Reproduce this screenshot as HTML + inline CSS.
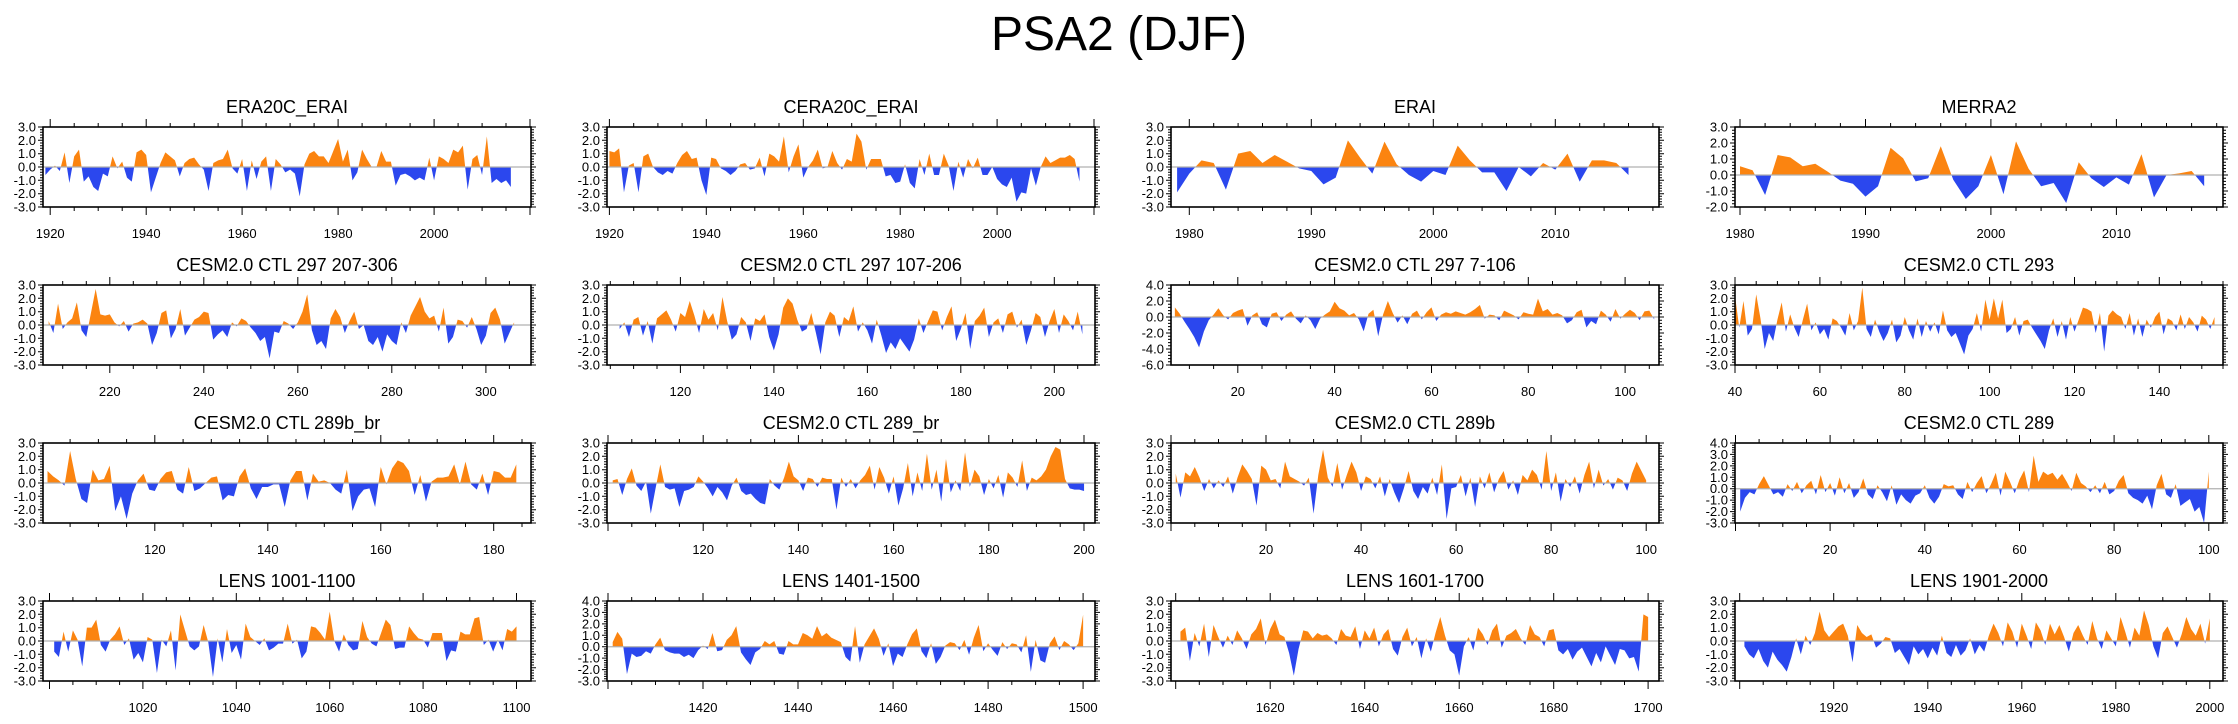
<!DOCTYPE html>
<html><head><meta charset="utf-8"><style>
html,body{margin:0;padding:0;background:#fff}
svg text{font-family:"Liberation Sans",sans-serif;fill:#000}
</style></head><body>
<svg id="fig" width="2238" height="719" xmlns="http://www.w3.org/2000/svg">
<text x="1119" y="50" text-anchor="middle" font-size="48">PSA2 (DJF)</text>
</svg>
<script>
const titles=["ERA20C_ERAI","CERA20C_ERAI","ERAI","MERRA2","CESM2.0 CTL 297 207-306","CESM2.0 CTL 297 107-206","CESM2.0 CTL 297 7-106","CESM2.0 CTL 293","CESM2.0 CTL 289b_br","CESM2.0 CTL 289_br","CESM2.0 CTL 289b","CESM2.0 CTL 289","LENS 1001-1100","LENS 1401-1500","LENS 1601-1700","LENS 1901-2000"];
const startYears=[1919,1920,1979,1980,207,107,7,40,101,101,1,1,1001,1401,1601,1901];
const xMins=[1918.5,1919.5,1978.5,1979.6,205.8,104.3,6.2,40,100.2,99.8,0,-0.1,998.6,1399.8,1599,1899];
const xMaxs=[2020.2,2020.2,2018.5,2018.5,309.6,208.7,107,155,186.6,202.3,102.7,103,1103.1,1502.5,1702.3,2002.8];
const xTickLabels=[[1920,1940,1960,1980,2000],[1920,1940,1960,1980,2000],[1980,1990,2000,2010],[1980,1990,2000,2010],[220,240,260,280,300],[120,140,160,180,200],[20,40,60,80,100],[40,60,80,100,120,140],[120,140,160,180],[120,140,160,180,200],[20,40,60,80,100],[20,40,60,80,100],[1020,1040,1060,1080,1100],[1420,1440,1460,1480,1500],[1620,1640,1660,1680,1700],[1920,1940,1960,1980,2000]];
const yMins=[-3,-3,-3,-2,-3,-3,-6,-3,-3,-3,-3,-3,-3,-3,-3,-3];
const yMaxs=[3,3,3,3,3,3,4,3,3,3,3,4,3,4,3,3];
const s1=[-0.6,-0.2,0.1,-0.3,1.1,-1.2,0.8,1.3,-1.1,-0.7,-1.5,-1.8,-0.5,-0.7,0.8,-0.1,0.4,-0.8,-1.1,1.1,1.3,0.9,-1.9,-0.8,0.3,1.1,0.8,0.5,-0.7,0.3,0.6,0.7,0.2,-0.2,-1.8,0.3,0.5,0.6,1.3,-0.1,-0.5,0.6,-1.8,0.5,-0.9,0.4,0.8,-1.8,0.6,0.2,-0.4,-0.2,-0.5,-2.2,0.2,1.0,1.2,0.8,0.8,0.3,1.2,2.1,0.4,1.3,-1.0,-0.4,1.3,0.6,0.0,0.0,1.2,0.4,0.4,-1.4,-0.6,-0.5,-0.7,-1.0,-0.8,-1.0,0.7,-1.0,0.8,0.6,0.3,1.3,1.1,1.6,-1.7,0.6,0.9,-0.6,2.3,-1.2,-0.9,-1.2,-1.0,-1.5];
const s2=[1.2,1.1,1.4,-1.9,0.1,0.3,-1.9,0.8,1.0,0.0,-0.4,-0.6,-0.3,-0.5,0.3,0.9,1.2,0.6,0.7,-1.0,-2.1,0.7,0.6,-0.1,-0.3,-0.6,-0.3,0.2,0.3,-0.2,-0.1,0.7,-0.7,1.0,0.8,0.4,2.3,-0.4,0.8,1.7,-0.8,0.0,0.5,1.3,-0.1,0.0,1.2,0.3,-0.2,0.6,0.4,2.5,1.9,-0.2,0.6,0.6,0.6,-0.7,-0.6,-1.2,-1.1,0.2,-1.2,-1.6,0.6,-0.6,1.0,-0.6,-0.6,1.0,0.1,-1.8,0.4,-0.8,0.6,-0.1,0.7,-0.6,-0.6,0.0,-0.9,-1.3,-1.5,-0.8,-2.6,-1.9,-2.0,-0.1,-1.4,0.0,0.8,0.3,0.5,0.7,0.7,0.9,0.6,-1.1];
const s3=[-1.9,-0.5,0.5,0.3,-1.7,1.0,1.2,0.3,0.9,0.4,-0.1,-0.3,-1.3,-0.8,2.0,0.7,-0.5,1.9,0.2,-0.6,-1.1,-0.3,-0.6,1.6,0.5,-0.4,-0.4,-1.8,0.0,-0.7,0.3,-0.2,1.0,-1.1,0.5,0.5,0.3,-0.6];
const s4=[0.55,0.3,-1.25,1.25,1.1,0.55,0.7,0.2,-0.35,-0.55,-1.35,-0.7,1.7,1.05,-0.4,-0.2,1.8,-0.3,-1.5,-0.7,1.25,-1.2,2.1,0.4,-0.7,-0.5,-1.75,0.8,-0.2,-0.75,-0.15,-0.6,1.3,-1.4,0.0,0.1,0.25,-0.7];
const s5=[0.3,-0.6,1.6,-0.3,0.2,0.5,1.7,-0.4,-0.9,0.9,2.7,0.8,0.7,0.8,0.2,-0.1,0.3,-0.5,0.1,0.2,0.4,0.1,-1.5,-0.6,0.9,1.1,-1.0,-0.3,1.2,-0.8,-0.2,0.4,0.6,1.0,0.9,-1.1,-0.7,-0.4,-0.9,0.2,-0.1,0.5,0.3,-0.2,-0.6,-1.2,-0.9,-2.5,-0.5,-0.6,0.3,0.1,-0.3,0.2,1.0,2.3,-0.4,-1.5,-1.2,-1.8,0.5,1.2,0.6,-0.6,0.3,1.0,-0.3,0.0,-1.2,-1.5,-0.9,-2.0,-0.7,-1.2,-1.5,0.2,-0.6,0.7,1.4,2.1,1.0,0.5,0.7,-0.5,1.3,-1.4,-0.9,0.4,0.3,-0.2,0.6,-0.3,-1.5,-0.8,0.9,1.3,0.4,-1.4,-0.6,0.2];
const s6=[-0.3,0.2,-0.9,0.4,0.6,-0.8,0.3,-1.4,0.5,0.8,1.1,0.4,-0.5,0.9,0.6,1.8,0.7,-0.6,1.2,0.4,0.9,-0.4,2.1,0.3,-1.1,-0.7,0.6,0.2,-1.2,0.5,0.3,0.8,-0.9,-1.9,-0.7,1.3,2.0,1.6,0.4,-0.5,-0.3,0.9,-0.6,-2.2,0.2,1.0,0.7,-0.9,0.6,0.3,1.4,-0.5,0.2,-0.4,-1.4,0.4,-0.8,-2.1,-1.3,-1.8,-1.0,-1.5,-2.0,-1.1,0.5,-0.6,0.3,1.1,1.0,-0.4,0.6,1.4,-1.2,-0.3,0.9,-1.8,0.3,0.7,1.3,-0.9,0.2,0.5,-0.6,0.8,1.0,-0.2,0.4,-1.5,-0.4,0.9,0.6,-0.9,0.3,1.2,-0.6,0.8,0.3,-0.4,1.0,-0.7];
const s7=[1.2,0.4,-0.6,-1.5,-2.5,-3.8,-1.8,-0.4,0.3,1.1,0.2,-0.3,0.5,0.8,1.0,-1.1,0.2,0.6,-0.9,-1.3,0.4,0.6,-0.5,0.3,0.7,-0.2,-0.8,0.2,-0.4,-1.5,-0.2,0.3,0.7,1.9,1.1,0.8,0.2,0.5,-0.3,-1.8,0.4,0.9,-2.4,0.3,2.0,0.5,-0.7,0.2,-0.9,0.4,0.8,-0.3,0.6,1.2,-0.5,0.3,0.6,0.4,0.7,0.5,0.3,0.6,1.0,1.5,-0.2,0.3,0.2,-0.4,0.8,0.5,0.2,-0.3,0.6,0.4,0.3,2.3,0.7,1.0,0.3,0.5,0.2,-0.8,-0.4,0.6,0.9,-1.3,-0.5,-0.9,0.8,0.3,-0.6,1.0,-0.2,0.4,0.9,0.5,-0.4,0.7,0.8,-0.3];
const s8=[2.2,-0.2,1.8,-0.8,-0.3,2.3,0.5,-1.8,-0.6,-1.2,0.4,1.7,-0.5,0.8,-0.2,-0.9,0.4,1.6,-0.4,0.2,-0.7,-0.3,-1.1,0.5,0.3,-0.2,-0.8,0.9,-0.4,0.3,2.8,-0.3,-0.9,0.4,-0.5,-1.2,-0.6,0.4,-1.3,-0.8,0.6,-0.4,-1.1,0.5,-0.9,0.3,-0.5,0.2,-0.7,1.1,-0.4,-0.9,-0.6,-1.4,-2.2,-0.8,-0.3,0.9,-0.5,1.9,0.4,2.0,0.5,1.9,-0.6,-0.3,0.6,-0.8,0.3,0.4,-0.2,-0.7,-1.2,-1.8,-0.4,0.5,-0.9,0.3,-1.1,0.6,-0.5,0.4,1.3,1.2,1.0,-0.6,0.9,-2.0,0.7,1.1,0.8,0.6,-0.3,0.9,-0.8,0.5,-0.9,0.4,-0.2,0.6,1.0,-0.7,0.5,0.3,-0.4,0.8,-0.3,0.6,0.2,-0.5,0.7,0.4,-0.3,0.6];
const s9=[0.9,0.5,0.2,-0.2,2.4,0.3,-1.2,-1.5,1.0,0.2,0.3,1.3,-2.1,-1.0,-2.7,-0.8,0.2,0.7,-0.5,-0.6,0.3,0.8,0.9,-0.5,-0.8,1.2,-0.6,-0.4,0.0,0.4,0.5,-1.3,-0.9,-1.0,0.5,1.1,-0.4,-1.2,-0.3,-0.3,-0.1,-0.1,-1.8,0.2,0.9,0.9,-1.3,0.7,0.1,0.2,0.0,-0.5,-0.8,1.0,-2.1,-1.0,-0.5,-0.4,-1.8,1.2,-0.1,1.1,1.7,1.5,0.9,-0.9,0.6,-1.4,0.1,0.4,0.4,0.5,1.4,-0.1,1.6,-0.1,-0.5,0.7,-0.9,0.9,0.8,0.4,0.4,1.4];
const s10=[0.2,0.3,-0.9,0.3,1.1,-0.2,-0.6,0.1,-2.3,-0.4,1.4,-0.3,-0.5,-0.4,-1.8,-0.6,-0.5,-0.3,0.5,0.1,-0.4,-1.0,-0.3,-0.7,-1.3,-0.2,0.4,-0.6,-0.9,-0.8,-1.2,-1.5,-1.6,0.3,-0.2,-0.5,0.4,1.6,0.5,0.2,-0.6,0.4,0.3,-0.3,0.4,0.3,0.3,-2.0,0.4,-0.3,0.3,-0.4,0.2,0.6,1.3,-0.5,1.2,0.4,-0.8,0.5,-1.7,-0.4,1.5,-1.0,0.8,-0.6,2.2,-0.5,1.0,-1.4,1.8,-0.7,0.2,-0.6,2.3,-0.3,1.0,0.5,-0.9,0.3,-0.4,0.6,-1.1,0.8,0.4,-0.3,1.7,-0.6,0.4,0.2,0.5,1.0,2.0,2.7,2.5,0.3,-0.4,-0.5,-0.5,-0.6];
const s11=[0.7,-1.1,0.8,0.5,1.2,0.4,-0.6,0.3,-0.4,0.2,-0.3,0.5,-0.8,0.4,1.4,0.9,0.3,-1.7,1.3,1.0,0.2,0.3,-0.4,1.6,0.5,0.3,0.1,-0.2,0.4,-2.3,0.6,2.5,0.4,-0.3,1.5,-0.5,0.6,1.6,0.8,-0.6,0.5,0.3,-0.4,0.5,-1.0,0.3,-0.7,-1.5,-0.4,0.9,-0.6,-1.2,-0.3,-0.8,0.4,-0.9,1.4,-2.7,-0.4,-0.3,0.6,-1.0,0.4,-1.8,0.5,-0.4,0.8,-0.7,0.3,0.9,-0.5,0.2,-0.9,0.6,0.2,1.0,0.6,-0.5,2.4,-0.6,0.8,-1.4,0.3,-0.3,0.5,-0.8,0.6,1.6,-0.4,1.0,-0.2,0.3,-0.5,0.4,0.2,-0.6,0.7,1.6,0.9,0.2];
const s12=[-2.0,-0.8,-0.3,-0.5,0.4,1.1,0.3,-0.5,-0.3,-0.7,0.4,-0.2,0.6,-0.4,0.3,0.7,-0.5,1.2,-0.3,0.5,-0.6,1.0,-0.4,0.5,-0.8,-0.3,0.9,-0.5,-0.9,0.3,-0.3,-1.1,0.3,-1.4,-0.5,-1.0,-1.3,-0.6,-0.4,0.3,-0.8,-1.3,-0.7,0.4,0.2,0.3,-0.5,-0.9,0.6,-0.3,0.5,1.1,-0.4,0.4,1.4,-0.6,1.5,0.6,-0.4,0.8,1.6,-0.3,2.9,0.6,1.5,1.2,1.4,0.8,1.3,0.6,-0.2,1.4,0.5,0.2,-0.3,0.3,-0.4,0.6,-0.5,-0.2,0.7,1.2,-0.4,-0.8,-1.0,-1.3,-0.6,-1.8,0.3,1.3,-0.5,-0.8,0.4,-1.5,-1.2,-0.9,-2.0,-1.6,-3.0,1.5];
const s13=[-0.8,-1.2,0.7,-0.8,0.8,0.1,-1.9,1.0,1.0,1.6,-0.3,-0.8,0.1,0.5,1.1,-0.3,0.2,-1.4,-0.9,-1.6,0.3,0.1,-2.4,0.1,-0.4,0.8,-2.2,2.0,0.8,-0.4,-0.7,-0.4,1.2,-0.1,-2.7,0.2,-1.6,0.9,-0.9,-0.3,-1.4,1.3,0.3,0.0,-0.3,0.2,-0.7,-0.5,-0.2,-0.2,1.3,-0.2,0.1,-1.3,-0.8,1.1,1.0,0.6,0.1,2.2,0.0,-0.8,0.5,-0.3,-0.7,-0.6,1.5,0.3,-0.2,-0.4,0.6,1.6,1.2,-0.6,-0.5,-0.5,1.1,0.6,0.2,0.1,-0.5,0.6,0.6,0.6,-1.5,-0.7,-0.8,0.7,0.5,0.5,1.7,1.8,-0.3,0.1,-0.8,0.1,-0.7,0.9,0.7,1.1];
const s14=[0.4,1.3,0.7,-2.4,-0.6,-0.9,-0.8,-0.4,-0.6,0.2,0.8,-0.3,-0.5,-0.6,-0.6,-0.9,-0.7,-1.0,-0.3,0.1,-0.2,1.2,-0.4,-0.3,0.6,1.0,1.8,-0.5,-1.1,-1.6,-0.5,-0.2,0.5,0.2,0.5,-0.6,-0.7,0.5,0.2,0.2,1.2,1.0,0.7,1.8,0.9,1.2,0.8,0.6,0.4,-0.9,-1.3,1.8,-1.4,0.2,0.9,1.6,0.7,-0.8,0.3,-1.7,-0.6,-0.9,0.2,1.1,1.6,-0.4,-1.0,0.3,-1.5,-0.9,0.1,0.4,0.3,-0.3,0.6,-0.7,0.8,1.9,-0.4,0.3,-0.3,-0.8,0.4,-0.2,0.3,0.2,-0.5,1.0,-2.2,0.6,-1.2,-1.4,0.3,0.9,-0.3,0.5,0.2,-0.3,0.3,2.8];
const s15=[0.7,1.0,-1.5,0.6,-0.4,1.3,-1.2,1.2,0.3,-0.5,0.4,-0.3,0.8,0.2,-0.6,0.5,0.9,1.7,-0.3,0.9,1.6,0.5,0.3,-0.9,-2.6,-0.6,0.8,0.7,0.2,0.6,0.4,0.5,0.2,-0.3,0.9,0.4,0.3,1.1,-0.6,0.8,0.2,1.0,-0.4,0.5,0.9,-0.6,-1.1,0.3,1.0,-0.4,0.3,-1.3,0.2,-0.8,0.6,1.8,0.4,-0.7,-1.0,-2.6,-0.4,0.3,-0.7,1.0,0.5,-0.3,0.8,1.3,-0.5,0.4,0.6,0.9,0.2,-0.3,1.2,0.5,0.3,-0.4,0.8,0.9,-0.7,-1.0,-0.6,-1.4,-0.8,-0.5,-1.2,-1.9,-0.9,-1.6,-0.4,-1.1,-1.8,-0.6,-0.7,-1.3,-1.2,-2.3,2.0,1.8];
const s16=[-0.4,-1.0,-1.3,-0.6,-1.5,-2.0,-0.8,-1.4,-1.8,-2.3,-1.2,0.2,-1.0,0.4,-0.3,0.6,2.2,0.8,0.3,0.7,1.1,1.3,0.4,-1.6,1.2,0.6,0.3,0.5,-0.5,-0.2,0.3,0.2,-0.9,-0.6,-1.2,-1.8,-0.4,-1.0,-0.6,-1.3,-0.5,-1.1,0.4,-0.9,-1.2,-0.3,-1.1,-0.7,0.2,-1.0,-0.3,-0.8,0.4,1.3,0.6,-0.4,1.4,0.7,-0.5,1.3,0.4,-0.6,1.4,0.8,-0.3,1.3,0.5,1.2,0.3,-0.8,0.6,1.2,0.4,-0.3,1.5,0.2,-0.6,0.8,0.2,-0.4,1.8,0.7,-0.5,1.0,0.4,2.3,1.2,-0.4,-1.3,0.6,1.1,0.3,-0.5,0.5,1.8,0.9,0.4,1.3,-0.2,1.7];
const series=[s1,s2,s3,s4,s5,s6,s7,s8,s9,s10,s11,s12,s13,s14,s15,s16];

const NS="http://www.w3.org/2000/svg";
const svg=document.getElementById('fig');
const colLefts=[43,607,1171,1735], rowTops=[127,285,443,601], W=488, H=80;
function mk(tag,attrs,parent){const e=document.createElementNS(NS,tag);for(const k in attrs)e.setAttribute(k,attrs[k]);parent.appendChild(e);return e;}
function slug(s){return s.toLowerCase().replace(/[^a-z0-9]+/g,'-').replace(/^-|-$/g,'');}

for(let p=0;p<16;p++){
  const L=colLefts[p%4], T=rowTops[Math.floor(p/4)];
  const x0=xMins[p], x1=xMaxs[p], y0=yMins[p], y1=yMaxs[p];
  const X=v=>L+(v-x0)/(x1-x0)*W;
  const Y=v=>T+H-(v-y0)/(y1-y0)*H;
  const g=mk('g',{},svg);
  
  
  const t=mk('text',{x:L+W/2,y:T-14,'text-anchor':'middle','font-size':18},g);
  t.textContent=titles[p];
  
  
  const d=series[p], st=startYears[p];
  const pts=[];
  for(let i=0;i<d.length;i++){
    if(i>0){const a=d[i-1],b=d[i];if(a*b<0){const f=a/(a-b);pts.push([st+i-1+f,0]);}}
    pts.push([st+i,d[i]]);
  }
  const zy=Y(0);
  let pos='M'+X(pts[0][0])+','+zy, neg=pos;
  pts.forEach(q=>{pos+=' L'+X(q[0]).toFixed(2)+','+Y(Math.max(q[1],0)).toFixed(2);neg+=' L'+X(q[0]).toFixed(2)+','+Y(Math.min(q[1],0)).toFixed(2);});
  pos+=' L'+X(pts[pts.length-1][0])+','+zy+' Z';neg+=' L'+X(pts[pts.length-1][0])+','+zy+' Z';
  const pp=mk('path',{d:pos,fill:'#fb8410'},g);
  
  
  const np=mk('path',{d:neg,fill:'#2b47ee'},g);
  
  
  const zl=mk('line',{x1:L,x2:L+W,y1:zy,y2:zy,stroke:'#b0b0b0','stroke-width':1.2},g);
  
  
  const box=mk('rect',{x:L,y:T,width:W,height:H,fill:'none',stroke:'#000','stroke-width':1.6},g);
  
  
  const labs=xTickLabels[p], step=labs[1]-labs[0], minor=step===10?2:5;
  let ticks='';
  for(let v=Math.ceil(x0/minor)*minor; v<=x1; v+=minor){
    const xx=X(v).toFixed(1), maj=((v-labs[0])%step+step)%step===0, len=maj?8:4;
    ticks+='M'+xx+','+T+'v'+(-len)+'M'+xx+','+(T+H)+'v'+len;
  }
  const ystep=(y1-y0)>8?2:1, ym=ystep/5;
  for(let k=0;k<=Math.round((y1-y0)/ym);k++){
    const v=y0+k*ym, yy=Y(v).toFixed(1), maj=Math.abs(v/ystep-Math.round(v/ystep))<1e-6, len=maj?5:3;
    ticks+='M'+L+','+yy+'h'+(-len)+'M'+(L+W)+','+yy+'h'+len;
  }
  const tk=mk('path',{d:ticks,stroke:'#000','stroke-width':1,fill:'none'},g);
  
  
  labs.forEach(v=>{
    const e=mk('text',{x:X(v),y:T+H+31,'text-anchor':'middle','font-size':13},g);
    e.textContent=v;
    
    
  });
  for(let v=y0;v<=y1+1e-6;v+=ystep){
    const e=mk('text',{x:L-7,y:Y(v)+4.5,'text-anchor':'end','font-size':13},g);
    e.textContent=v.toFixed(1);
    
    
  }
}
</script>
</body></html>
